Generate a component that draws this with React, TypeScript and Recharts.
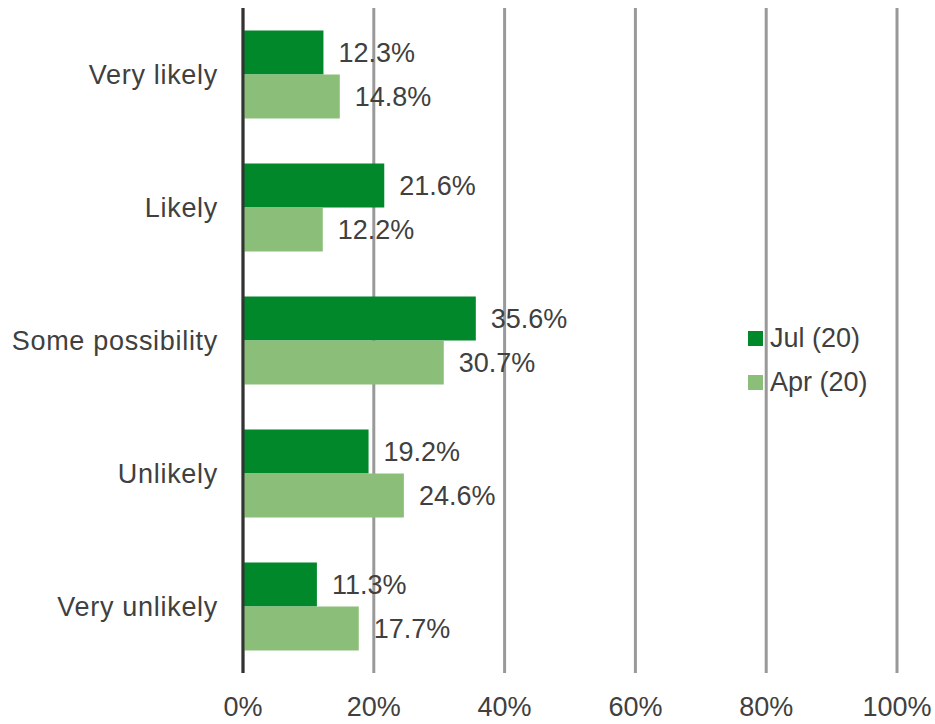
import React from 'react';
import { BarChart, Bar, XAxis, YAxis, CartesianGrid, LabelList } from 'recharts';

const categories = ['Very likely', 'Likely', 'Some possibility', 'Unlikely', 'Very unlikely'];
const jul20 = [12.3, 21.6, 35.6, 19.2, 11.3];
const apr20 = [14.8, 12.2, 30.7, 24.6, 17.7];
const xTicks = [0, 20, 40, 60, 80, 100];
const seriesNames = ['Jul (20)', 'Apr (20)'];

const data = categories.map((c, i) => ({ cat: c, jul: jul20[i], apr: apr20[i] }));

const JUL = '#00882B';
const APR = '#8BBE78';
const FONT = '"Liberation Sans", Arial, sans-serif';
const FS = 27;

const fmt = (v: any) => `${Number(v).toFixed(1)}%`;

export default function App() {
  const colors = [JUL, APR];
  return (
    <div style={{ position: 'absolute', left: 0, top: 0, width: 935, height: 724, background: '#fff' }}>
      <BarChart
        width={935}
        height={724}
        data={data}
        layout="vertical"
        margin={{ top: 8, right: 38, bottom: 0, left: 0 }}
        barCategoryGap="17%"
        barGap={0}
      >
        <CartesianGrid horizontal={false} vertical={true} stroke="#999999" strokeWidth={3} />
        <XAxis
          type="number"
          domain={[0, 100]}
          ticks={xTicks}
          tickFormatter={(v) => `${v}%`}
          axisLine={false}
          tickLine={false}
          height={51}
          tickMargin={18}
          tick={{ fill: '#404040', fontSize: FS, fontFamily: FONT }}
          interval={0}
        />
        <YAxis
          type="category"
          dataKey="cat"
          width={243}
          axisLine={{ stroke: '#333333', strokeWidth: 3 }}
          tickLine={false}
          tickMargin={19}
          tick={{ fill: '#404040', fontSize: FS, fontFamily: FONT, letterSpacing: 0.7 }}
        />
        <Bar dataKey="jul" fill={JUL} isAnimationActive={false}>
          <LabelList dataKey="jul" position="right" offset={15} formatter={fmt} fill="#404040" fontSize={FS} fontFamily={FONT} />
        </Bar>
        <Bar dataKey="apr" fill={APR} isAnimationActive={false}>
          <LabelList dataKey="apr" position="right" offset={15} formatter={fmt} fill="#404040" fontSize={FS} fontFamily={FONT} />
        </Bar>
      </BarChart>
      <div style={{ position: 'absolute', left: 748, top: 316, fontFamily: FONT, fontSize: FS, color: '#404040' }}>
        {seriesNames.map((n, i) => (
          <div key={n} style={{ display: 'flex', alignItems: 'center', height: 44, lineHeight: '44px' }}>
            <span style={{ display: 'inline-block', width: 15, height: 15, background: colors[i], marginRight: 7 }} />
            <span>{n}</span>
          </div>
        ))}
      </div>
    </div>
  );
}
